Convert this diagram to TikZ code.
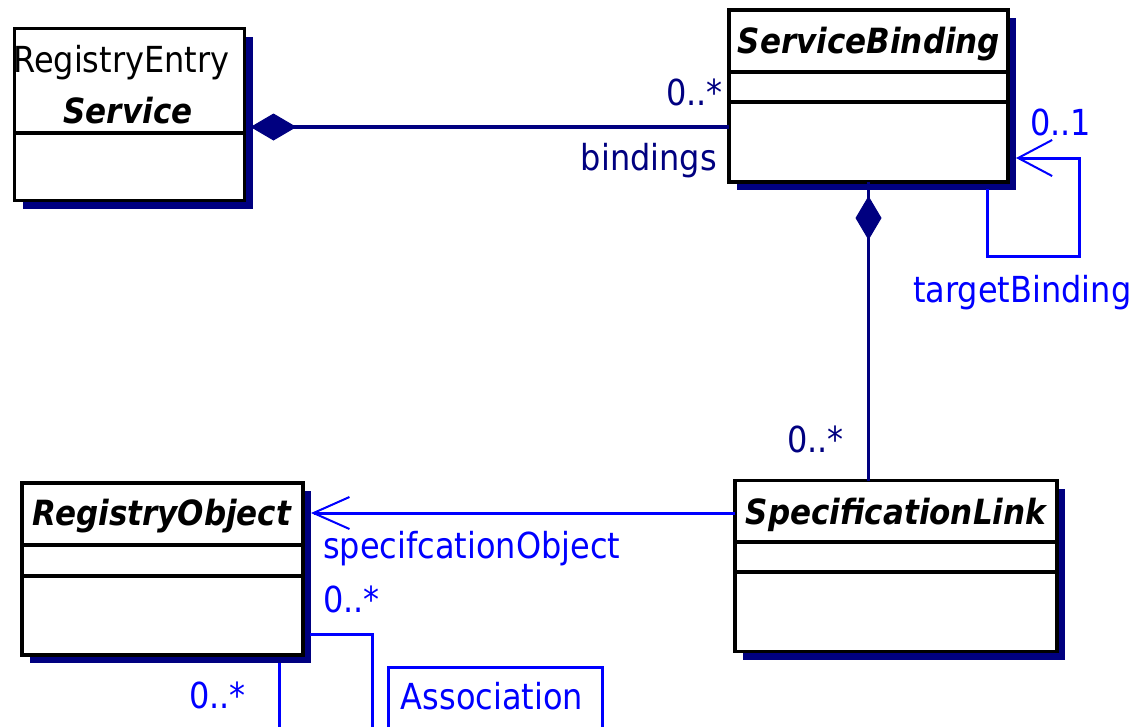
\documentclass[tikz,border=0pt]{standalone}
\usepackage{fontspec}
\setmainfont{DejaVu Sans}
\usetikzlibrary{arrows.meta,shadows,decorations.markings}
\definecolor{navy}{RGB}{0,0,128}
\definecolor{ublue}{RGB}{0,0,255}
\newcommand\talltext[1]{\scalebox{1}[1.12]{#1}}
\tikzset{
  cls/.style={draw=black, line width=3.5pt, fill=white, inner sep=0pt, outer sep=0pt,
    anchor=north west,
    drop shadow={shadow xshift=8pt, shadow yshift=-8pt, fill=navy, opacity=1}},
  divider/.style={draw=black, line width=3.5pt},
  navyln/.style={draw=navy, line width=3.5pt},
  blueln/.style={draw=ublue, line width=3pt},
  lbl/.style={inner sep=0pt, font=\fontsize{32}{38}\selectfont},
  ttl/.style={inner sep=0pt, anchor=base, font=\fontsize{31}{37}\selectfont\bfseries\itshape},
  assocbox/.style={draw=ublue, line width=3pt, inner sep=0pt, outer sep=0pt, anchor=north west}
}
\begin{document}
\begin{tikzpicture}[x=1pt,y=-1pt]
\useasboundingbox (0,0) rectangle (1134,726);

% class boxes
\node[cls, minimum width=230pt, minimum height=172pt] (svc) at (14.5,28.5) {};
\node[cls, minimum width=279pt, minimum height=172pt] (sb) at (729,10) {};
\node[cls, minimum width=322pt, minimum height=171pt] (sl) at (735,480.5) {};
\node[cls, minimum width=281pt, minimum height=172pt] (ro) at (22,483) {};

% compartments
\draw[divider] (svc.west |- 0,133) -- (svc.east |- 0,133);
\draw[divider] (sb.west |- 0,72) -- (sb.east |- 0,72);
\draw[divider] (sb.west |- 0,102) -- (sb.east |- 0,102);
\draw[divider] (sl.west |- 0,542) -- (sl.east |- 0,542);
\draw[divider] (sl.west |- 0,572) -- (sl.east |- 0,572);
\draw[divider] (ro.west |- 0,545) -- (ro.east |- 0,545);
\draw[divider] (ro.west |- 0,576) -- (ro.east |- 0,576);

% class names
\node[lbl, anchor=base west] (svcst) at (13,72) {\talltext{RegistryEntry}};
\node[ttl] (svcname) at (128,123) {\talltext{Service}};
\node[ttl] (sbname) at (869,53) {\talltext{ServiceBinding}};
\node[ttl] (slname) at (896,524) {\talltext{SpecificationLink}};
\node[ttl] (roname) at (162,525) {\talltext{RegistryObject}};

% Service <>-- ServiceBinding
\draw[navyln, {Diamond[length=46pt,width=27pt,line width=1pt]}-, shorten <=6pt]
  (svc.east |- 0,127) -- (sb.west |- 0,127);
\node[lbl, text=navy, anchor=base west] (m1) at (666,105) {\talltext{0..*}};
\node[lbl, text=navy, anchor=base east] (r1) at (717,170) {\talltext{bindings}};

% self association targetBinding
\draw[blueln, {Straight Barb[length=34pt,width=36pt,line width=2pt]}-, shorten <=8pt, shorten >=7pt]
  (sb.east |- 0,158) -- (1079,158) -- (1079,256) -- (987,256) -- (sb.south -| 987,0);
\node[lbl, text=ublue, anchor=base west] (m2) at (1030,135) {\talltext{0..1}};
\node[lbl, text=ublue, anchor=base west] (r2) at (913,302) {\talltext{targetBinding}};

% ServiceBinding <>-- SpecificationLink
\draw[navyln, postaction={decorate, decoration={markings,
    mark=at position 14pt with {\arrowreversed{Diamond[length=44pt,width=26pt,line width=1pt]}}}}]
  (sb.south) -- (sb.south |- sl.north);
\node[lbl, text=navy, anchor=base west] (m3) at (787,452) {\talltext{0..*}};

% SpecificationLink --> RegistryObject
\draw[blueln, -{Straight Barb[length=36pt,width=32pt,line width=2pt]}, shorten >=8pt]
  (sl.west |- 0,513) -- (ro.east |- 0,513);
\node[lbl, text=ublue, anchor=base west] (r4) at (323,558) {\talltext{specifcationObject}};
\node[lbl, text=ublue, anchor=base west] (m4) at (323,612) {\talltext{0..*}};

% association lines leaving the picture
\coordinate (b1) at (372,732);
\coordinate (b2) at (279,732);
\draw[blueln, shorten <=7pt] (ro.east |- 0,634) -| (b1);
\draw[blueln, shorten <=8pt] (ro.south -| 279,0) -- (b2);
\node[lbl, text=ublue, anchor=base west] (m5) at (189,708) {\talltext{0..*}};

% association class
\node[assocbox, minimum width=214pt, minimum height=80pt] (assoc) at (388.5,667.5) {};
\node[lbl, text=ublue, anchor=base] (assoctxt) at (492,709) {\talltext{Association}};
\end{tikzpicture}
\end{document}
